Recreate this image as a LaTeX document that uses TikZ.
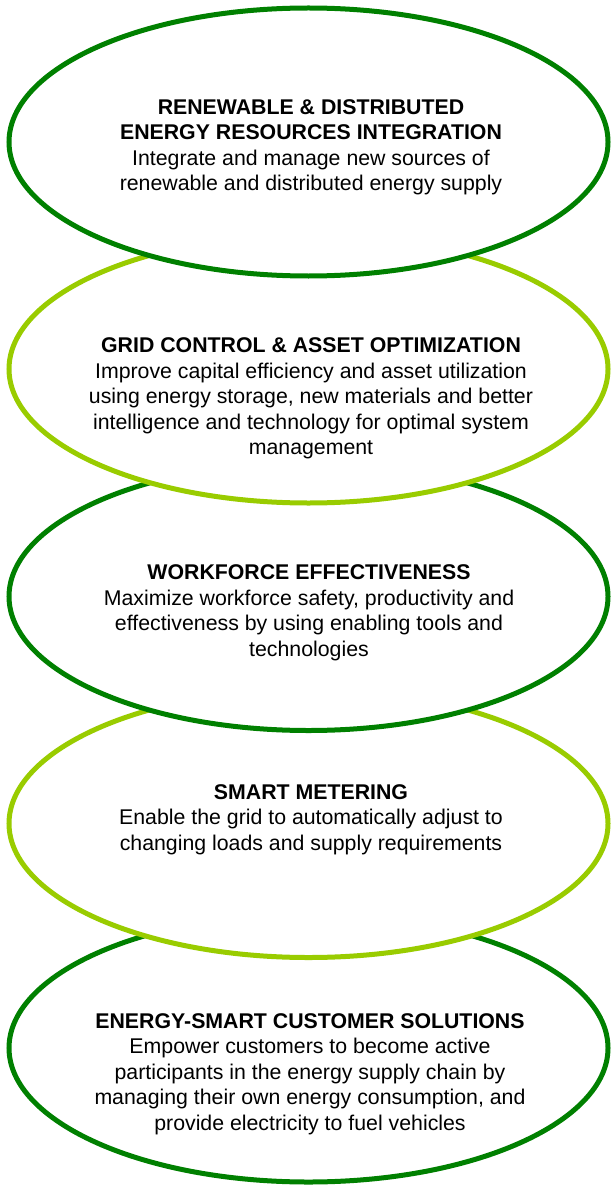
\documentclass[tikz,border=0pt]{standalone}
\usepackage{fontspec}
\setmainfont{Liberation Sans}
\usetikzlibrary{shapes.geometric}
\definecolor{dkgreen}{HTML}{008000}
\definecolor{ltgreen}{HTML}{99CC00}
\begin{document}
\begin{tikzpicture}[x=1pt,y=-1pt,
  oval/.style={ellipse, draw, fill=white, line width=5pt, inner sep=0pt,
    minimum width=599pt, minimum height=268pt},
  dkoval/.style={oval, draw=dkgreen},
  ltoval/.style={oval, draw=ltgreen},
  txt/.style={align=center, inner sep=0pt, font=\fontsize{21.3}{25.5}\selectfont}]
\useasboundingbox (0,0) rectangle (611,1185);
\node[dkoval] (e5) at (308.5,1048) {};
\node[ltoval] (e4) at (308.5,823.5) {};
\node[dkoval] (e3) at (308.5,596.5) {};
\node[ltoval] (e2) at (308.5,369) {};
\node[dkoval] (e1) at (308.5,142) {};
\node[txt] (t1) at (311,147.5) {\textbf{RENEWABLE \& DISTRIBUTED}\\\textbf{ENERGY RESOURCES INTEGRATION}\\Integrate and manage new sources of\\renewable and distributed energy supply};
\node[txt] (t2) at (311,398.5) {\textbf{GRID CONTROL \& ASSET OPTIMIZATION}\\Improve capital efficiency and asset utilization\\using energy storage, new materials and better\\intelligence and technology for optimal system\\management};
\node[txt] (t3) at (309,613) {\textbf{WORKFORCE EFFECTIVENESS}\\Maximize workforce safety, productivity and\\effectiveness by using enabling tools and\\technologies};
\node[txt] (t4) at (311,819.5) {\textbf{SMART METERING}\\Enable the grid to automatically adjust to\\changing loads and supply requirements};
\node[txt] (t5) at (310,1074) {\textbf{ENERGY-SMART CUSTOMER SOLUTIONS}\\Empower customers to become active\\participants in the energy supply chain by\\managing their own energy consumption, and\\provide electricity to fuel vehicles};
\end{tikzpicture}
\end{document}
